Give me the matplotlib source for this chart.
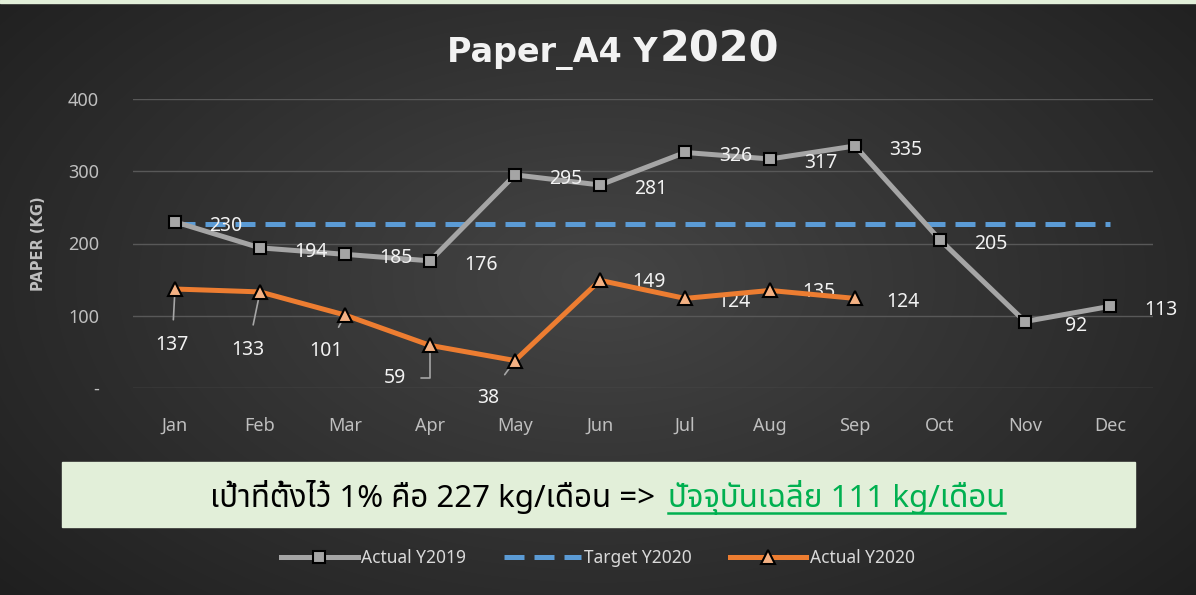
import matplotlib
matplotlib.use("Agg")
import matplotlib.pyplot as plt
import numpy as np
from matplotlib import font_manager
from matplotlib.lines import Line2D
from matplotlib.patches import Rectangle

months = ["Jan", "Feb", "Mar", "Apr", "May", "Jun", "Jul", "Aug", "Sep", "Oct", "Nov", "Dec"]
actual_2019 = [230, 194, 185, 176, 295, 281, 326, 317, 335, 205, 92, 113]
target_2020 = [227] * 12
actual_2020 = [137, 133, 101, 59, 38, 149, 124, 135, 124]
yticks = [0, 100, 200, 300, 400]
ytick_labels = ["-", "100", "200", "300", "400"]

# pick a font that has thai glyphs
names = {f.name for f in font_manager.fontManager.ttflist}
thai = next((n for n in ["Noto Sans Thai", "Sarabun", "IBM Plex Sans Thai", "Prompt",
                         "Kanit", "Bai Jamjuree", "Chakra Petch", "Athiti"] if n in names),
            "DejaVu Sans")
plt.rcParams["font.family"] = ["Noto Sans", thai, "DejaVu Sans"]

W, H = 1196, 595
fig = plt.figure(figsize=(W / 100, H / 100), dpi=100)

# dark radial background
bg = fig.add_axes([0, 0, 1, 1])
yy, xx = np.mgrid[0:H, 0:W]
r = np.sqrt(((xx - 600) / 700) ** 2 + ((yy - 280) / 420) ** 2)
shade = np.clip(0.27 - 0.13 * r, 0.11, 0.27)
bg.imshow(np.dstack([shade] * 3), extent=[0, W, H, 0], aspect="auto")
bg.add_patch(Rectangle((0, 0), W, 3, color="#e2efd9"))
bg.set_xlim(0, W)
bg.set_ylim(H, 0)
bg.axis("off")

ax = fig.add_axes([132.5 / W, 1 - 388 / H, 1020 / W, 289 / H])
ax.patch.set_alpha(0)
x = np.arange(len(months))
ax.set_xlim(-0.5, 11.5)
ax.set_ylim(0, 400)
for s in ax.spines.values():
    s.set_visible(False)
ax.set_yticks(yticks)
ax.set_yticklabels(ytick_labels)
ax.set_xticks(x)
ax.set_xticklabels(months)
ax.tick_params(length=0, colors="#bfbfbf", labelsize=13)
ax.tick_params(axis="x", pad=21)
ax.tick_params(axis="y", pad=24)
ax.grid(axis="y", color="#585858", lw=1)
ax.set_axisbelow(True)
ax.set_ylabel("PAPER (KG)", color="#bfbfbf", fontsize=10.5, fontweight="bold",
              family="DejaVu Sans", labelpad=16)

ax.plot(x, target_2020, color="#5b9bd5", lw=3.6, ls=(0, (4, 2)), label="Target Y2020", zorder=2)
ax.plot(x, actual_2019, color="#a5a5a5", lw=3.6, marker="s", ms=9, mfc="#a5a5a5",
        mec="black", mew=1.5, label="Actual Y2019", zorder=3)
ax.plot(x[:len(actual_2020)], actual_2020, color="#ed7d31", lw=3.6, marker="^", ms=10,
        mfc="#f4b183", mec="black", mew=1.5, label="Actual Y2020", zorder=4)

lab = dict(color="#f2f2f2", fontsize=14, ha="center", va="center", textcoords="offset pixels")
for i, v in enumerate(actual_2019):
    ax.annotate(str(v), (i, v), xytext=(51, -4), **lab)

offs_2020 = [(-3, -56), (-12, -58), (-19, -36), (-35, -33), (-27, -37),
             (49, -2), (49, -4), (49, -2), (48, -4)]
for i, v in enumerate(actual_2020):
    dx, dy = offs_2020[i]
    arrow = None
    if i < 5:
        cs = "angle,angleA=0,angleB=90,rad=0" if i == 3 else "arc3"
        arrow = dict(arrowstyle="-", color="#a6a6a6", lw=1.2, shrinkA=9, shrinkB=5,
                     connectionstyle=cs)
    ax.annotate(str(v), (i, v), xytext=(dx, dy), arrowprops=arrow, **lab)

# title: "2020" is bigger than the rest
ty = 1 - 62 / H
fig.text(658 / W, ty, "Paper_A4 Y", color="#f2f2f2", fontsize=24, fontweight="bold",
         family="DejaVu Sans", ha="right", va="baseline")
fig.text(660 / W, ty, "2020", color="#f2f2f2", fontsize=31, fontweight="bold",
         family="DejaVu Sans", ha="left", va="baseline")

# note box
fig.patches.append(Rectangle((62 / W, 1 - 527 / H), 1073 / W, 65 / H,
                             transform=fig.transFigure, color="#e2efd9", zorder=1))
by = 1 - 507 / H
t1 = fig.text(663 / W, by, "เป้าที่ตั้งไว้ 1% คือ 227 kg/เดือน => ", color="black", fontsize=22.5,
              family=[thai, "DejaVu Sans"], ha="right", va="baseline", zorder=2)
t2 = fig.text(668 / W, by, "ปัจจุบันเฉลี่ย 111 kg/เดือน", color="#00b050", fontsize=22.5,
              family=[thai, "DejaVu Sans"], ha="left", va="baseline", zorder=2)
fig.canvas.draw()
bb = t2.get_window_extent()
uy = bb.y0 + 2
fig.add_artist(Line2D([bb.x0 / W, bb.x1 / W], [uy / H, uy / H], color="#00b050", lw=1.8,
                      transform=fig.transFigure))

handles, labels = ax.get_legend_handles_labels()
order = [1, 0, 2]
leg = fig.legend([handles[k] for k in order], [labels[k] for k in order], loc="center",
                 bbox_to_anchor=(0.5, 1 - 558 / H), ncol=3, frameon=False, fontsize=12.5,
                 handlelength=4.4, handletextpad=0.2, columnspacing=2.2, labelcolor="#d9d9d9")

fig.savefig("out.png", dpi=100)
